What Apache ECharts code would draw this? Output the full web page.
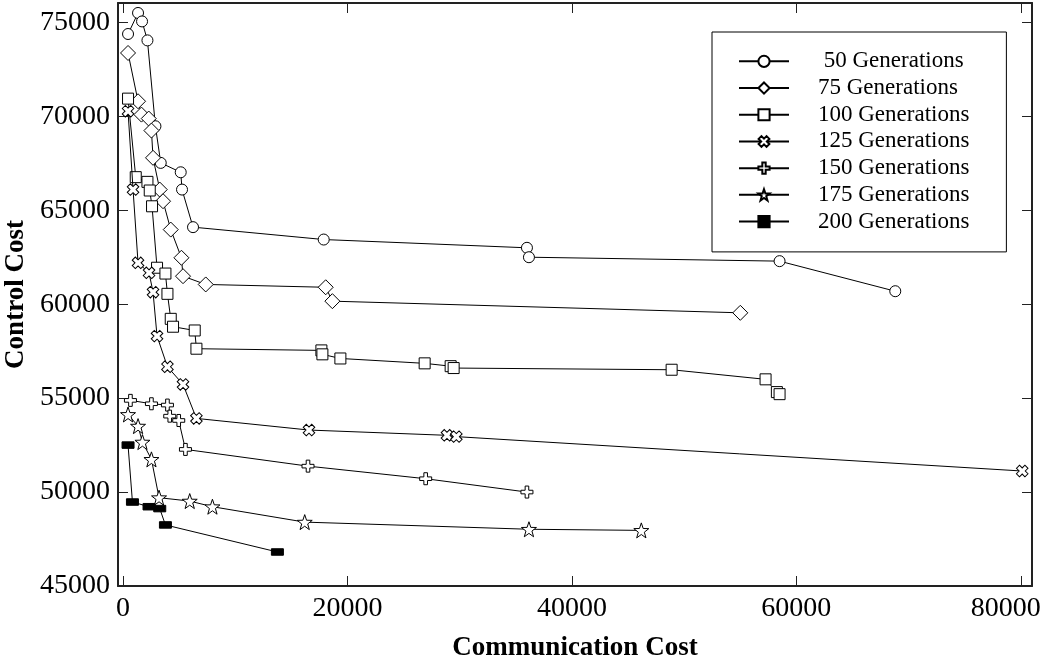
<!DOCTYPE html>
<html>
<head>
<meta charset="utf-8">
<script src="https://cdn.jsdelivr.net/npm/echarts@6/dist/echarts.min.js"></script>
<style>
html,body{margin:0;padding:0;background:#fff;}
#chart{width:1051px;height:663px;}
</style>
</head>
<body>
<div id="chart"></div>
<script>
// ---- data: [Communication Cost, Control Cost] ----
const gen50 = [[445,74380],[1336,75500],[1693,75050],[2174,74040],[2886,69470],[3359,67520],[5140,67020],[5256,66100],[6236,64100],[17881,63440],[35993,63000],[36171,62500],[58505,62290],[68815,60690]];
const gen75 = [[445,73370],[1336,70800],[1639,70090],[2290,69880],[2530,69240],[2673,67790],[3270,66100],[3564,65480],[4250,63970],[5203,62470],[5345,61490],[7368,61050],[18059,60900],[18655,60160],[55004,59540]];
const gen100 = [[445,70940],[1131,66760],[2174,66510],[2379,66050],[2584,65210],[3029,61940],[3777,61630],[3956,60550],[4250,59220],[4455,58800],[6388,58600],[6539,57630],[17675,57540],[17765,57330],[19368,57110],[26878,56850],[29194,56700],[29461,56600],[48887,56510],[57257,56000],[58265,55320],[58505,55210]];
const gen125 = [[445,70270],[891,66100],[1336,62200],[2316,61670],[2673,60640],[3029,58300],[3956,56670],[5345,55730],[6539,53920],[16571,53300],[28866,53020],[29702,52950],[80128,51120]];
const gen150 = [[659,54880],[2530,54700],[3956,54630],[4161,54040],[4962,53810],[5560,52270],[16482,51380],[26968,50710],[35993,50000]];
const gen175 = [[445,54130],[1336,53510],[1728,52660],[2530,51740],[3207,49700],[5942,49520],[7965,49220],[16188,48400],[36171,48020],[46185,47960]];
const gen200 = [[445,52500],[837,49470],[2316,49220],[3270,49120],[3777,48250],[13755,46810]];

const seriesNames = [' 50 Generations','75 Generations','100 Generations','125 Generations','150 Generations','175 Generations','200 Generations'];
const xTicks = [0,20000,40000,60000,80000];
const yTicks = [45000,50000,55000,60000,65000,70000,75000];

const FONT = 'Liberation Serif';
const PLUS = 'path://M3.5,0 H6.5 V3.5 H10 V6.5 H6.5 V10 H3.5 V6.5 H0 V3.5 H3.5 Z';
const XCROSS = 'path://M3.2,0 H6.8 V3.2 H10 V6.8 H6.8 V10 H3.2 V6.8 H0 V3.2 H3.2 Z';
const STAR = 'path://M10,0 L12.35,6.76 L19.51,6.91 L13.8,11.24 L15.88,18.09 L10,14 L4.12,18.09 L6.2,11.24 L0.49,6.91 L7.65,6.76 Z';
const FLATRECT = 'path://M0,0 H12 V6.5 H0 Z';

const styles = [
  {symbol:'circle', size:11},
  {symbol:'diamond', size:15},
  {symbol:'rect', size:11},
  {symbol:XCROSS, size:12, rotate:45},
  {symbol:PLUS, size:12},
  {symbol:STAR, size:15},
  {symbol:FLATRECT, size:12, fill:'#000', keep:true}
];
const datasets = [gen50, gen75, gen100, gen125, gen150, gen175, gen200];

const series = datasets.map((d,i)=>({
  name: seriesNames[i],
  type:'line',
  data:d,
  xAxisIndex:0, yAxisIndex:0,
  symbol: styles[i].symbol,
  symbolSize: styles[i].size,
  symbolRotate: styles[i].rotate || 0,
  symbolKeepAspect: !!styles[i].keep,
  showAllSymbol:true,
  lineStyle:{color:'#000', width:1},
  itemStyle:{color: styles[i].fill || '#fff', borderColor:'#000', borderWidth:1, opacity:1},
  emphasis:{disabled:true},
  z: 2+i
}));

const plain = v => String(v);
const xFmt = v => v === 80000 ? '{r|' + v + '}' : String(v);
const axisLine = {show:true, onZero:false, lineStyle:{color:'#222', width:2}};
const chart = echarts.init(document.getElementById('chart'), null, {renderer:'canvas'});
chart.setOption({
  animation:false,
  backgroundColor:'#fff',
  grid:{left:118, right:19, top:3, bottom:77, containLabel:false, outerBoundsMode:'none'},
  legend:{
    orient:'vertical', left:712, top:32,
    padding:[16,37,17,26],
    itemWidth:50, itemHeight:14, itemGap:0,
    borderColor:'#000', borderWidth:1,
    backgroundColor:'#fff',
    inactiveColor:'#000',
    selectedMode:false,
    textStyle:{fontFamily:FONT, fontSize:23, color:'#000', lineHeight:26.7, padding:[0,0,0,24]},
    data: seriesNames
  },
  xAxis:[
    {type:'value', position:'bottom', min:-450, max:81000,
     name:'Communication Cost', nameLocation:'middle', nameGap:49,
     nameTextStyle:{fontFamily:FONT, fontSize:27, fontWeight:'bold', color:'#000'},
     axisLine:axisLine,
     axisTick:{show:true, inside:true, length:10, customValues:xTicks, lineStyle:{color:'#222', width:1}},
     axisLabel:{show:true, customValues:xTicks, formatter:xFmt, fontFamily:FONT, fontSize:28, color:'#000', margin:9,
       rich:{r:{fontFamily:FONT, fontSize:28, color:'#000', padding:[0,30,0,0]}}},
     splitLine:{show:false}},
    {type:'value', position:'top', min:-450, max:81000,
     axisLine:axisLine,
     axisTick:{show:true, inside:true, length:10, customValues:xTicks, lineStyle:{color:'#222', width:1}},
     axisLabel:{show:false}, splitLine:{show:false}}
  ],
  yAxis:[
    {type:'value', position:'left', min:45000, max:76030,
     name:'Control Cost', nameLocation:'middle', nameGap:77, nameRotate:90,
     nameTextStyle:{fontFamily:FONT, fontSize:27, fontWeight:'bold', color:'#000'},
     axisLine:axisLine,
     axisTick:{show:true, inside:true, length:10, customValues:yTicks, lineStyle:{color:'#222', width:1}},
     axisLabel:{show:true, customValues:yTicks, formatter:plain, fontFamily:FONT, fontSize:28, color:'#000', margin:8},
     splitLine:{show:false}},
    {type:'value', position:'right', min:45000, max:76030,
     axisLine:axisLine,
     axisTick:{show:true, inside:true, length:10, customValues:yTicks, lineStyle:{color:'#222', width:1}},
     axisLabel:{show:false}, splitLine:{show:false}}
  ],
  series: series
});
</script>
</body>
</html>
